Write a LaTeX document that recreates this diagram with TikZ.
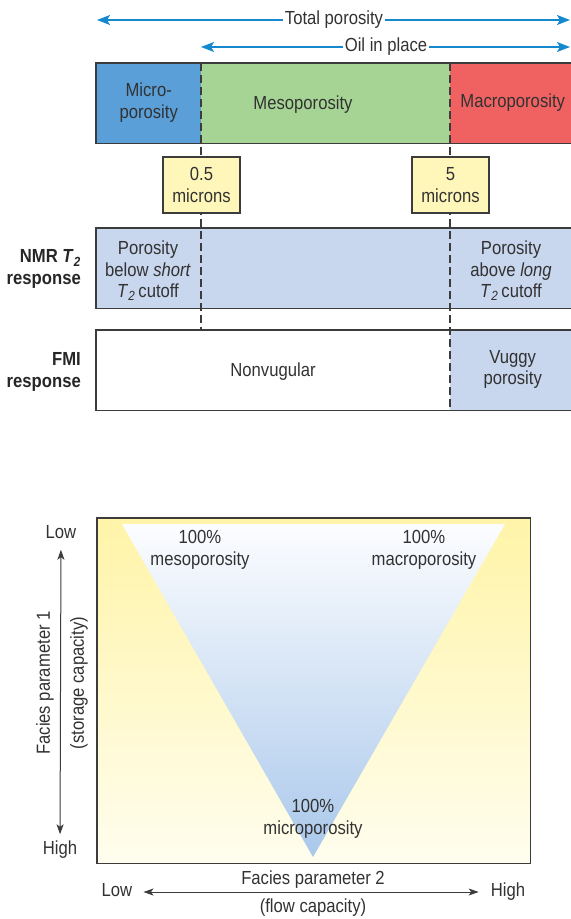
\documentclass[tikz,border=0pt]{standalone}
\usepackage{fontspec}
\setmainfont[FakeStretch=0.88]{Liberation Sans}
\usetikzlibrary{arrows.meta}

\definecolor{txtgray}{RGB}{50,50,50}
\definecolor{framegray}{RGB}{60,60,60}
\definecolor{arrowblue}{RGB}{22,136,206}
\definecolor{microblue}{RGB}{90,159,216}
\definecolor{mesogreen}{RGB}{166,212,148}
\definecolor{macrored}{RGB}{240,98,98}
\definecolor{micronyellow}{RGB}{255,247,186}
\definecolor{nmrblue}{RGB}{200,214,238}
\definecolor{panelyellow}{RGB}{255,244,168}
\definecolor{panelcream}{RGB}{255,253,238}
\definecolor{triwhite}{RGB}{252,253,255}
\definecolor{triblue}{RGB}{170,200,235}

\begin{document}
\begin{tikzpicture}[x=1bp, y=-1bp,
  every node/.style={font=\fontsize{19}{21.5}\selectfont, text=txtgray, align=center, inner sep=2bp},
  span/.style={draw=arrowblue, line width=1.4bp, -{Stealth[length=13bp, width=10bp, inset=3bp]}},
  frame/.style={draw=framegray, line width=1.2bp},
  cutline/.style={draw=framegray, line width=1.2bp, dash pattern=on 8bp off 4bp},
  band/.style={minimum height=80bp, anchor=north west, inner sep=0pt, text depth=5bp},
  sizebox/.style={draw=framegray, line width=1.2bp, fill=micronyellow, minimum width=77bp, minimum height=56bp},
  sidelabel/.style={font=\bfseries\fontsize{19}{21.5}\selectfont, text=black!85, align=right, anchor=east},
  axlabel/.style={text height=13bp, text depth=4bp},
  axis/.style={draw=framegray, line width=1bp, {Stealth[length=10bp, width=7bp, inset=2.5bp]}-{Stealth[length=10bp, width=7bp, inset=2.5bp]}}
]
\clip (0,0) rectangle (571,919);

% Ranges on top
\node (total) at (334,20) {Total porosity};
\coordinate (totalL) at (97,20);
\coordinate (totalR) at (570,20);
\draw[span] (total) -- (totalL);
\draw[span] (total) -- (totalR);

\node (oil) at (386,47) {Oil in place};
\coordinate (oilL) at (201,47);
\coordinate (oilR) at (570,47);
\draw[span] (oil) -- (oilL);
\draw[span] (oil) -- (oilR);

% Pore size bar
\node[band, fill=microblue, minimum width=105bp] (micro) at (96,63) {Micro-\\porosity};
\node[band, fill=mesogreen, minimum width=249bp] (meso) at (201,63) {};
\node (mesotext) at (303,105) {Mesoporosity};
\node[band, fill=macrored, minimum width=125bp] (macro) at (450,63) {Macroporosity};
\draw[frame] (micro.north west) rectangle (macro.south east);

% NMR and FMI rows
\node[band, fill=nmrblue, minimum width=480bp] (nmr) at (96,228) {};
\node (nmrshort) at (148,271) {Porosity\\below \textit{short}\\\textit{T}\textsubscript{\textit{2}}\,cutoff};
\node (nmrlong) at (511,271) {Porosity\\above \textit{long}\\\textit{T}\textsubscript{\textit{2}}\,cutoff};
\draw[frame] (nmr.north west) rectangle (nmr.south east);

\node[band, minimum width=480bp] (fmi) at (96,330) {};
\node (nonvug) at (273,372) {Nonvugular};
\node[band, fill=nmrblue, minimum width=125bp] (vug) at (450,330) {Vuggy\\porosity};
\draw[frame] (fmi.north west) rectangle (fmi.south east);

\node[sidelabel] (nmrlabel) at (83,269) {NMR \textit{T}\textsubscript{\textit{2}}\\response};
\node[sidelabel] (fmilabel) at (83,372) {FMI\\response};

% Cutoffs
\coordinate (cutA) at (201,63);
\coordinate (cutAend) at (201,330);
\coordinate (cutB) at (450,63);
\coordinate (cutBend) at (450,410);
\draw[cutline] (cutA) -- (cutAend);
\draw[cutline] (cutB) -- (cutBend);
\node[sizebox] (halfmicron) at (201.5,185) {0.5\\microns};
\node[sizebox] (fivemicron) at (450.5,185) {5\\microns};

% Facies triangle
\node[anchor=north west, minimum width=433bp, minimum height=345bp, inner sep=0pt,
  top color=panelyellow, bottom color=panelcream] (panel) at (97,518) {};
\coordinate (mesoCorner) at (122,524);
\coordinate (macroCorner) at (505,524);
\coordinate (microCorner) at (313,857);
\shade[top color=triwhite, bottom color=triblue] (mesoCorner) -- (macroCorner) -- (microCorner) -- cycle;
\draw[frame] (panel.north west) rectangle (panel.south east);

\node (meso100) at (200,550) {100\%\\mesoporosity};
\node (macro100) at (424,550) {100\%\\macroporosity};
\node (micro100) at (313,819) {100\%\\microporosity};

% Axes
\node[axlabel] (lowV) at (61,534) {Low};
\node[axlabel] (highV) at (60,850) {High};
\draw[axis, shorten <=5bp, shorten >=5bp] (lowV) -- (highV);
\node[rotate=90] (facies1) at (45,683) {Facies parameter 1};
\node[rotate=90] (storage) at (79,683) {(storage capacity)};

\node[axlabel] (lowH) at (117,892) {Low};
\node[axlabel] (highH) at (508,892) {High};
\draw[axis, shorten <=9bp, shorten >=10bp] (lowH) -- (highH);
\node (facies2) at (313,880) {Facies parameter 2};
\node (flow) at (313,908) {(flow capacity)};
\end{tikzpicture}
\end{document}
